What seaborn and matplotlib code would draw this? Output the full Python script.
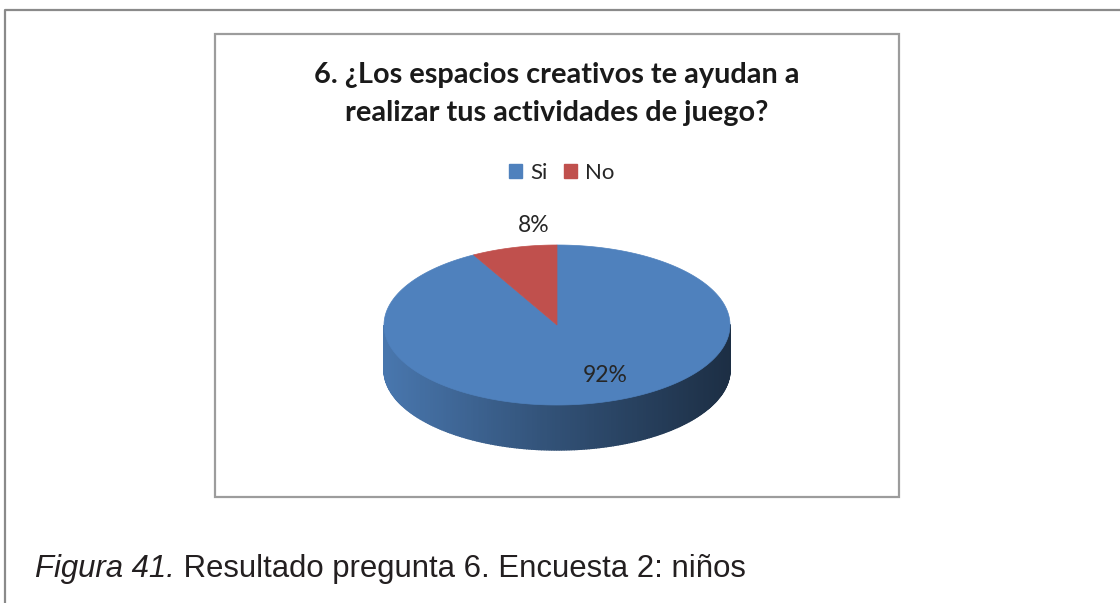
import numpy as np
import matplotlib
matplotlib.use("Agg")
import matplotlib.pyplot as plt
import seaborn as sns
from matplotlib.patches import Polygon, Rectangle, Patch

# data
categories = ["Si", "No"]
values = [92, 8]
pct_labels = ["92%", "8%"]
colors = ["#4f81bd", "#c0504d"]

title = "6. ¿Los espacios creativos te ayudan a\nrealizar tus actividades de juego?"
caption_a = "Figura 41."
caption_b = " Resultado pregunta 6. Encuesta 2: niños"

sns.set_theme(style="white")
plt.rcParams["font.family"] = ["Lato", "DejaVu Sans"]

fig = plt.figure(figsize=(11.2, 6.03), dpi=100)
ax = fig.add_axes([0, 0, 1, 1])
ax.set_xlim(0, 1120)
ax.set_ylim(603, 0)
ax.axis("off")

# page frame + chart area box
ax.plot([5, 5, 1120], [603, 10, 10], color="#8a8a8a", lw=1.6, solid_capstyle="butt")
ax.add_patch(Rectangle((215, 34), 684, 463, fill=False, ec="#9c9c9c", lw=1.6))

# title
ax.text(557, 83, title.split("\n")[0], ha="center", va="baseline",
        fontsize=20.8, fontweight="bold", color="#1a1a1a")
ax.text(557, 121, title.split("\n")[1], ha="center", va="baseline",
        fontsize=20.8, fontweight="bold", color="#1a1a1a")

# 3d-ish pie
cx, cy, rx, ry, depth = 557, 325, 173, 80, 45


def pt(t):
    return cx + rx * np.cos(t), cy - ry * np.sin(t)


fracs = np.array(values) / sum(values)
bounds = np.pi / 2 - 2 * np.pi * np.concatenate([[0], np.cumsum(fracs)])

# side wall (front half only), shaded left -> right
n_shade = 256
for i, c in enumerate(colors):
    rgb = np.array(matplotlib.colors.to_rgb(c))
    shade = sns.blend_palette([rgb * 0.92, rgb * 0.62, rgb * 0.36], n_shade)
    ts = np.linspace(bounds[i], bounds[i + 1], 400)
    for t0, t1 in zip(ts[:-1], ts[1:]):
        if np.sin((t0 + t1) / 2) > 0:
            continue
        x0, y0 = pt(t0)
        x1, y1 = pt(t1)
        k = int((1 - np.cos((t0 + t1) / 2)) / 2 * (n_shade - 1))
        col = shade[n_shade - 1 - k]
        ax.add_patch(Polygon([(x0, y0), (x1, y1), (x1, y1 + depth), (x0, y0 + depth)],
                             closed=True, fc=col, ec=col, lw=1.0))

# top face
for i, c in enumerate(colors):
    ts = np.linspace(bounds[i], bounds[i + 1], 400)
    xs, ys = pt(ts)
    verts = [(cx, cy)] + list(zip(xs, ys))
    ax.add_patch(Polygon(verts, closed=True, fc=c, ec=c, lw=0.5))

# percent labels
label_pos = [(605, 376), (534, 226)]
for lab, (lx, ly) in zip(pct_labels, label_pos):
    ax.text(lx, ly, lab, ha="center", va="center", fontsize=16.5, color="#262626")

# legend
handles = [Patch(facecolor=c, edgecolor=c) for c in colors]
ax.legend(handles, categories, loc="center", bbox_to_anchor=(0.5014, 1 - 173 / 603),
          ncol=2, frameon=False, fontsize=16, handlelength=0.6, handleheight=0.6,
          handletextpad=0.35, columnspacing=0.75, borderpad=0)

# caption
t1 = ax.text(35, 577, caption_a, ha="left", va="baseline", fontsize=22.4,
             style="italic", family="Liberation Sans", color="#231f20")
ax.annotate(caption_b, xy=(1, 0), xycoords=t1, ha="left", va="bottom",
            fontsize=22.4, family="Liberation Sans", color="#231f20")

fig.savefig("out.png", dpi=100, facecolor="white")
